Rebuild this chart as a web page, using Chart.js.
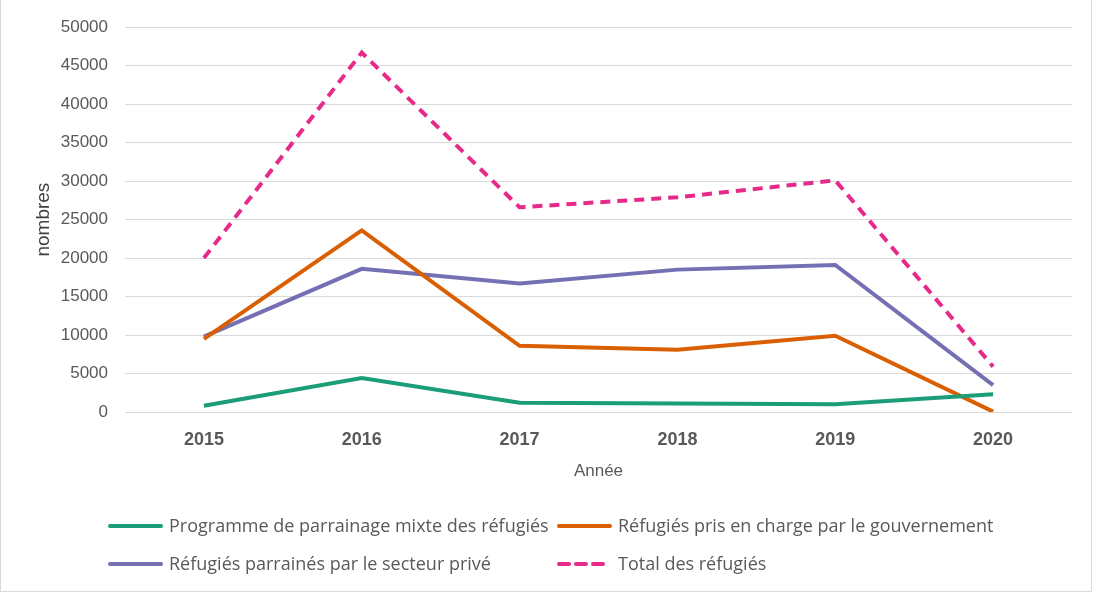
<!DOCTYPE html>
<html lang="fr">
  <head>
    <meta charset="utf-8" />
    <title>Réfugiés</title>
    <style>
      * { margin: 0; padding: 0; box-sizing: border-box; }
      body { background: #ffffff; width: 1095px; height: 594px; overflow: hidden; }
      .wrapper {
        position: absolute; left: 0; top: 0;
        width: 1092px; height: 592px;
        border: 1px solid #d9d9d9; border-top: none;
      }
      #chart { display: block; }
    </style>
  </head>
  <body>
    <div class="wrapper">
      <canvas id="chart" width="1090" height="591"></canvas>
    </div>
    <script src="https://cdn.jsdelivr.net/npm/chart.js@4/dist/chart.umd.min.js"></script>
    <script>
      // Données
      const years = ["2015", "2016", "2017", "2018", "2019", "2020"];
      const mixte = [800, 4400, 1200, 1100, 1000, 2300];
      const gouvernement = [9500, 23600, 8600, 8100, 9900, 50];
      const prive = [9800, 18600, 16700, 18500, 19100, 3500];
      const total = [20000, 46700, 26600, 27900, 30100, 5900];
      const yTicks = [0, 5000, 10000, 15000, 20000, 25000, 30000, 35000, 40000, 45000, 50000];

      const grey = "#595959";
      const font = "'Liberation Sans', sans-serif";

      // Legend drawn in two columns under the plot
      const gridLegend = {
        id: "gridLegend",
        afterDraw(chart) {
          const ctx = chart.ctx;
          const cols = [107, 556];
          const rows = [526, 564];
          ctx.save();
          ctx.font = "18px 'Open Sans', sans-serif";
          ctx.textBaseline = "middle";
          chart.data.datasets.forEach((ds, i) => {
            const x = cols[i % 2];
            const y = rows[Math.floor(i / 2)];
            ctx.strokeStyle = ds.borderColor;
            ctx.lineWidth = 4;
            ctx.lineCap = "round";
            ctx.setLineDash(ds.borderDash || []);
            ctx.beginPath();
            ctx.moveTo(x + 2, y);
            ctx.lineTo(x + 53, y);
            ctx.stroke();
            ctx.setLineDash([]);
            ctx.fillStyle = grey;
            ctx.fillText(ds.label, x + 61, y + 1);
          });
          ctx.restore();
        },
      };

      new Chart(document.getElementById("chart"), {
        type: "line",
        plugins: [gridLegend],
        data: {
          labels: years,
          datasets: [
            { label: "Programme de parrainage mixte des réfugiés", data: mixte, borderColor: "#1b9e77" },
            { label: "Réfugiés pris en charge par le gouvernement", data: gouvernement, borderColor: "#d95f02" },
            { label: "Réfugiés parrainés par le secteur privé", data: prive, borderColor: "#7570b3" },
            { label: "Total des réfugiés", data: total, borderColor: "#e7298a", borderDash: [10, 7] },
          ],
        },
        options: {
          responsive: false,
          animation: false,
          elements: {
            line: { borderWidth: 4, tension: 0, fill: false },
            point: { radius: 0, hoverRadius: 0 },
          },
          layout: { padding: { top: 20, right: 19, bottom: 105, left: 27 } },
          plugins: { legend: { display: false }, tooltip: { enabled: false } },
          scales: {
            x: {
              offset: true,
              grid: { display: false },
              border: { display: false },
              ticks: { color: grey, font: { family: font, size: 18, weight: "bold" }, padding: 9 },
              title: { display: true, text: "Année", color: grey, font: { family: font, size: 17 }, padding: { top: 2 } },
            },
            y: {
              min: 0,
              max: 50000,
              afterBuildTicks: (axis) => { axis.ticks = yTicks.map((v) => ({ value: v })); },
              afterFit: (axis) => { axis.width = 97; },
              grid: { color: "#d9d9d9", lineWidth: 1, drawTicks: false },
              border: { display: false },
              ticks: { color: grey, font: { family: font, size: 17 }, padding: 17, callback: (v) => String(v) },
              title: { display: true, text: "nombres", color: "#404040", font: { family: font, size: 19 }, padding: { bottom: 8 } },
            },
          },
        },
      });
    </script>
  </body>
</html>
